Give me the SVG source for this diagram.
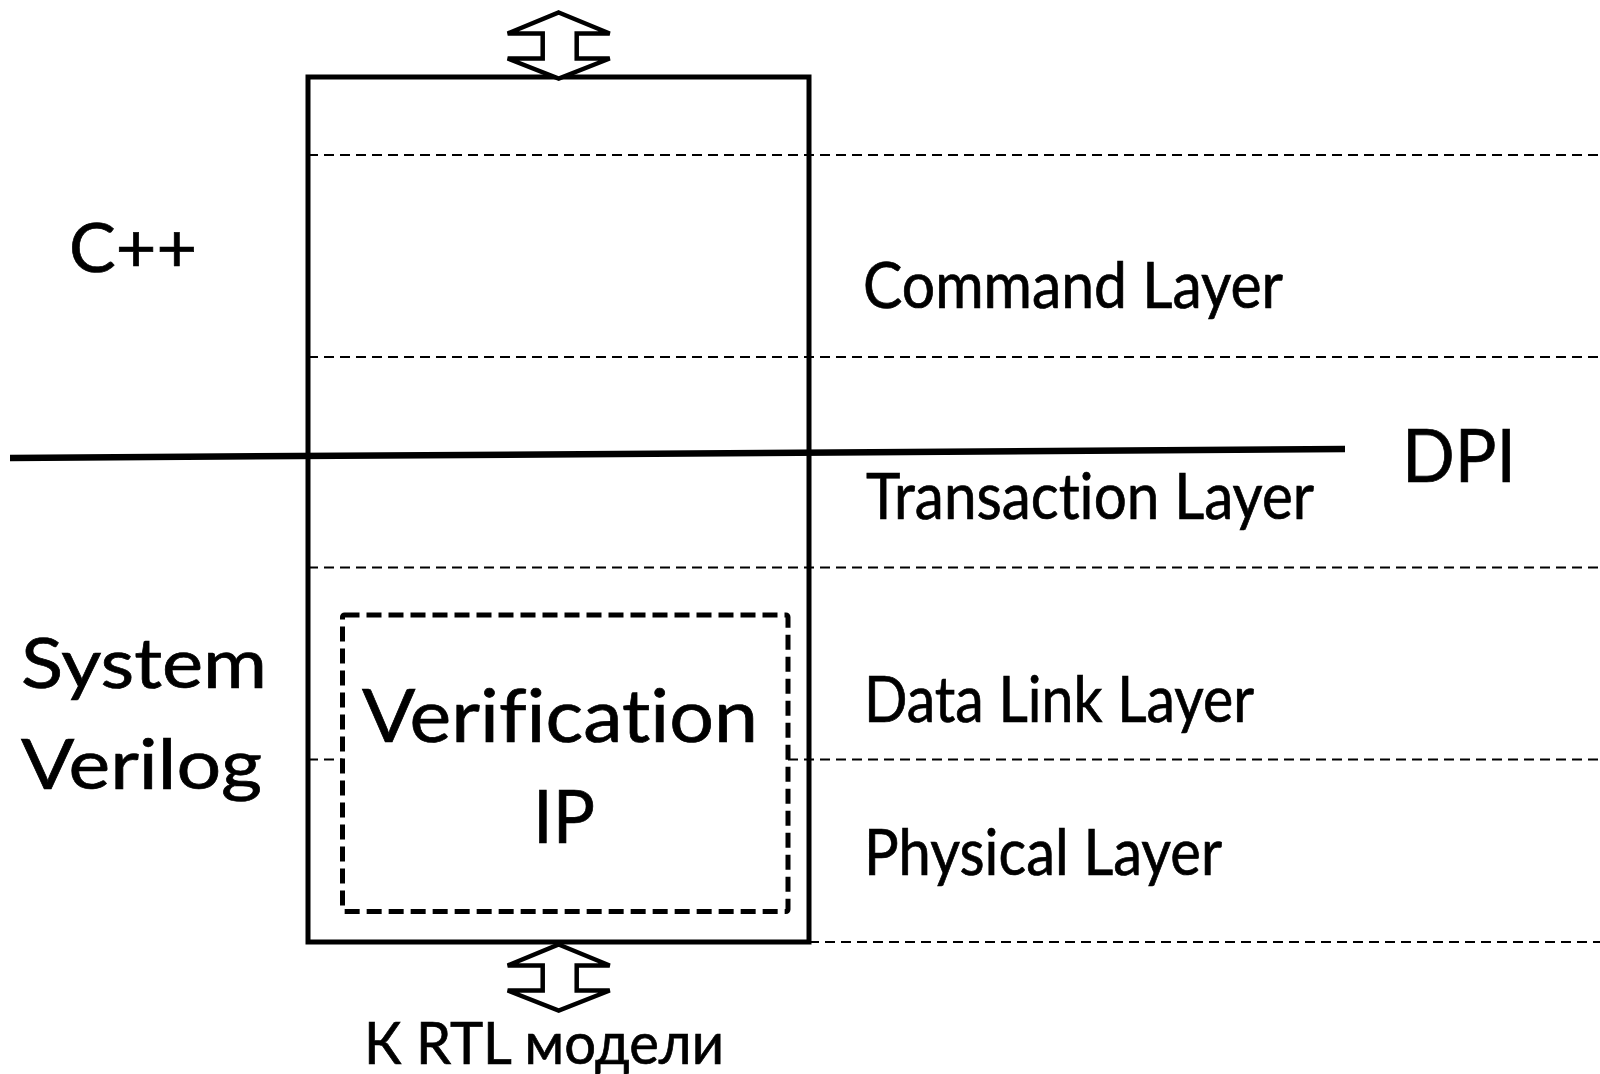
<svg xmlns="http://www.w3.org/2000/svg" width="1600" height="1074" viewBox="0 0 1600 1074">
  <style>
    .lbl { font-family: "Lato", "Open Sans", "Noto Sans", sans-serif; fill: #000; stroke: #000; stroke-width: 0.7; font-variant-ligatures: none; font-feature-settings: "liga" 0, "clig" 0; }
    .layer { font-size: 63px; }
    .big { font-size: 74px; }
    .side { font-size: 70px; }
    .frame { fill: none; stroke: #000; stroke-width: 5; }
    .sep { fill: none; stroke: #000; stroke-width: 2; stroke-dasharray: 10 6; }
    .vip { fill: #fff; stroke: #000; stroke-width: 5; stroke-dasharray: 15 7; stroke-linejoin: round; }
    .io { fill: #fff; stroke: #000; stroke-width: 4.5; stroke-linejoin: miter; }
  </style>
  <defs>
    <!-- up/down double arrow, centred on x=0, tip at y=0 -->
    <polygon id="updown" class="io" points="0,0 51,21 18,21 18,46 51,46 0,66 -51,46 -16,46 -16,21 -51,21"/>
  </defs>
  <rect width="1600" height="1074" fill="#fff"/>

  <!-- layer separators -->
  <g id="separators">
    <line class="sep" x1="308" y1="155" x2="1600" y2="155"/>
    <line class="sep" x1="308" y1="357" x2="1600" y2="357"/>
    <line class="sep" x1="308" y1="567.5" x2="1600" y2="567.5"/>
    <line class="sep" x1="308" y1="759.5" x2="1600" y2="759.5"/>
    <line class="sep" x1="809" y1="942" x2="1600" y2="942"/>
  </g>

  <!-- protocol stack frame -->
  <g id="stack">
    <rect class="frame" x="308" y="77" width="501" height="865"/>
  </g>

  <!-- verification IP block -->
  <g id="vip">
    <rect class="vip" x="342.5" y="615" width="445.5" height="296.5" rx="2"/>
    <text class="lbl big" x="362" y="742" textLength="396" lengthAdjust="spacingAndGlyphs">Verification</text>
    <text class="lbl big" x="533" y="843" textLength="62" lengthAdjust="spacingAndGlyphs">IP</text>
  </g>

  <!-- DPI boundary -->
  <g id="dpi">
    <line x1="10" y1="458" x2="1345" y2="449" stroke="#000" stroke-width="6.5"/>
    <text class="lbl big" x="1402" y="482" textLength="114" lengthAdjust="spacingAndGlyphs">DPI</text>
  </g>

  <!-- language domains -->
  <g id="cpp">
    <text class="lbl" font-size="68" x="69" y="272" textLength="128" lengthAdjust="spacingAndGlyphs">C++</text>
  </g>
  <g id="sv">
    <text class="lbl side" x="21" y="688" textLength="246" lengthAdjust="spacingAndGlyphs">System</text>
    <text class="lbl side" x="21" y="789" textLength="241" lengthAdjust="spacingAndGlyphs">Verilog</text>
  </g>

  <!-- layer names -->
  <g id="layer-command">
    <text class="lbl layer" x="863" y="308" textLength="420" lengthAdjust="spacingAndGlyphs">Command Layer</text>
  </g>
  <g id="layer-transaction">
    <text class="lbl layer" x="866" y="519" textLength="448" lengthAdjust="spacingAndGlyphs">Transaction Layer</text>
  </g>
  <g id="layer-datalink">
    <text class="lbl layer" x="864" y="722" textLength="390" lengthAdjust="spacingAndGlyphs">Data Link Layer</text>
  </g>
  <g id="layer-physical">
    <text class="lbl layer" x="864" y="875" textLength="358" lengthAdjust="spacingAndGlyphs">Physical Layer</text>
  </g>

  <!-- RTL side label -->
  <g id="rtl">
    <text class="lbl" font-size="59" x="364" y="1064" textLength="360" lengthAdjust="spacingAndGlyphs">К RTL модели</text>
  </g>

  <!-- interface arrows -->
  <g id="connectors">
    <use href="#updown" x="558.7" y="12.5"/>
    <use href="#updown" x="558.7" y="944.5"/>
  </g>
</svg>
